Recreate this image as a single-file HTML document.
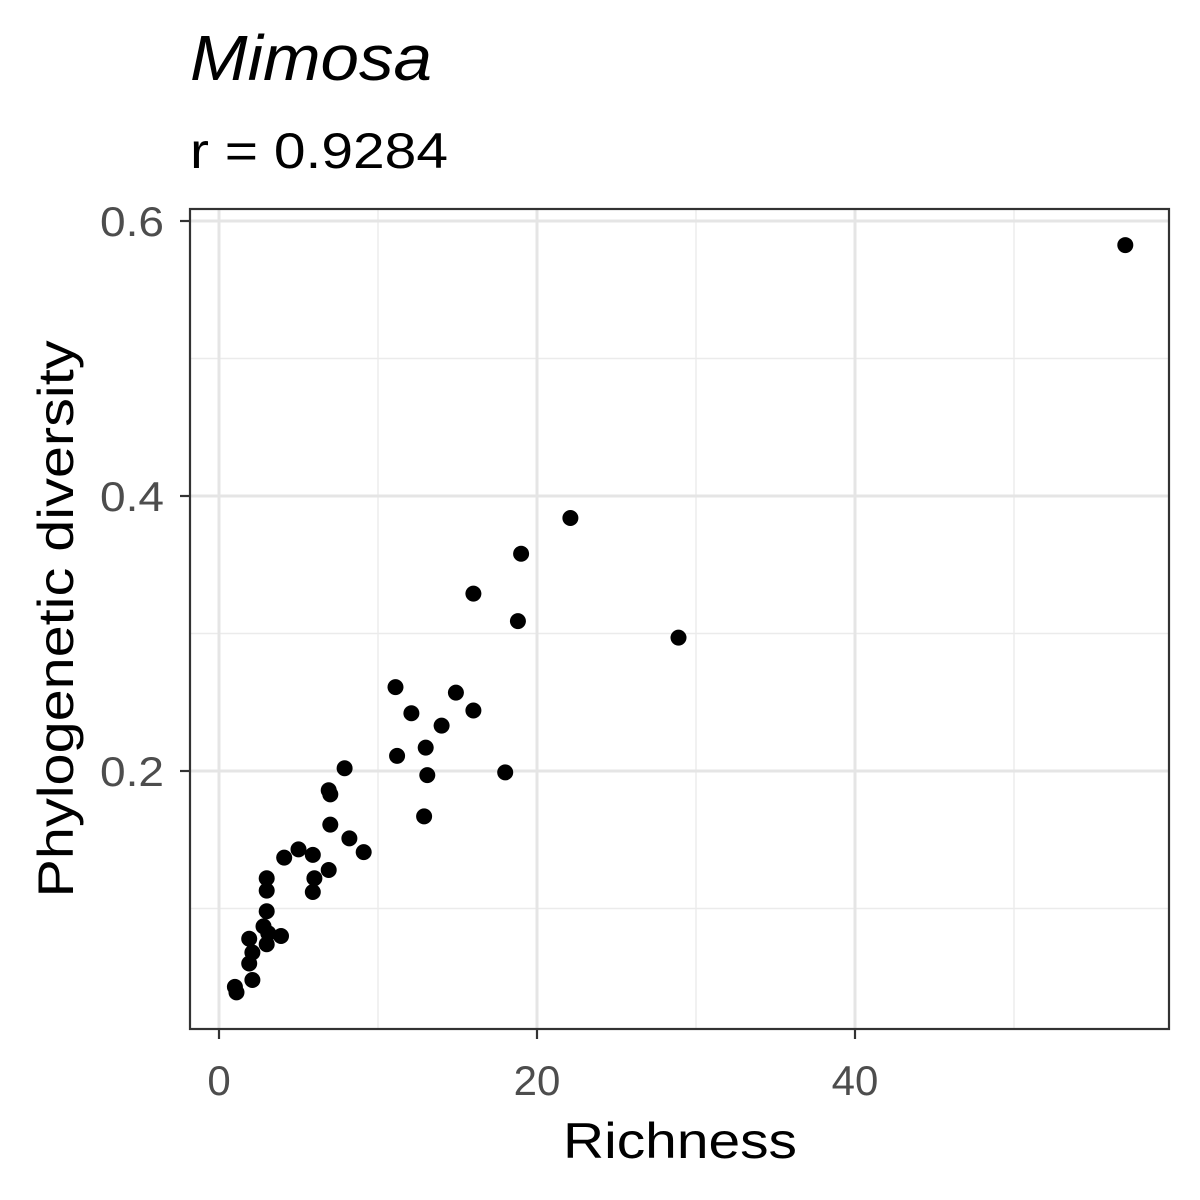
<!DOCTYPE html>
<html><head><meta charset="utf-8"><style>
html,body{margin:0;padding:0;background:#fff;}
svg{display:block;font-family:"Liberation Sans",Arial,sans-serif;}
</style></head><body>
<svg id="chart" width="1200" height="1200" viewBox="0 0 1200 1200">
<rect width="1200" height="1200" fill="#fff"/>
<text x="190" y="80" font-size="64" font-style="italic" textLength="242" lengthAdjust="spacingAndGlyphs">Mimosa</text>
<text x="190" y="168" font-size="50" textLength="258" lengthAdjust="spacingAndGlyphs">r = 0.9284</text>
<g id="grid"></g>
<g id="pts"></g>
<rect x="190" y="209" width="979" height="820" fill="none" stroke="#333" stroke-width="2.2"/>
<g id="axes"></g>
<text x="680" y="1158" font-size="50" text-anchor="middle" textLength="234" lengthAdjust="spacingAndGlyphs">Richness</text>
<text transform="translate(73,619) rotate(-90)" font-size="50" text-anchor="middle" textLength="557" lengthAdjust="spacingAndGlyphs">Phylogenetic diversity</text>
</svg>
<script>
const xTicks=[0,20,40];
const xMinor=[10,30,50];
const yTicks=[0.2,0.4,0.6];
const yMinor=[0.1,0.3,0.5];
const xTickLabels=["0","20","40"];
const yTickLabels=["0.2","0.4","0.6"];
const richness=[57.0,22.1,19.0,16.0,18.8,28.9,11.1,14.9,16.0,12.1,14.0,13.0,11.2,7.9,13.1,18.0,6.9,7.0,7.0,12.9,8.2,9.1,5.0,4.1,5.9,6.9,6.0,3.0,3.0,5.9,3.0,2.8,3.1,3.9,1.9,3.0,2.1,1.9,2.1,1.0,1.1];
const pd=[0.5825,0.384,0.358,0.329,0.309,0.297,0.261,0.257,0.244,0.242,0.233,0.217,0.211,0.202,0.197,0.199,0.186,0.183,0.161,0.167,0.151,0.141,0.143,0.137,0.139,0.128,0.122,0.122,0.113,0.112,0.098,0.087,0.082,0.080,0.078,0.074,0.068,0.060,0.048,0.043,0.039];
const NS="http://www.w3.org/2000/svg";
const L=190,R=1169,T=209,B=1029;
function xs(v){return 219+v*15.9;}
function ys(v){return 771-(v-0.2)*1375;}
function mk(tag,attrs,parent){const e=document.createElementNS(NS,tag);for(const k in attrs)e.setAttribute(k,attrs[k]);parent.appendChild(e);return e;}
const grid=document.getElementById('grid'),pts=document.getElementById('pts'),axes=document.getElementById('axes');
xMinor.forEach(v=>{const e=mk('line',{x1:xs(v),x2:xs(v),y1:T,y2:B,stroke:'#ebebeb','stroke-width':1.4},grid);

});
yMinor.forEach(v=>{const e=mk('line',{x1:L,x2:R,y1:ys(v),y2:ys(v),stroke:'#ebebeb','stroke-width':1.4},grid);

});
xTicks.forEach((v,i)=>{const e=mk('line',{x1:xs(v),x2:xs(v),y1:T,y2:B,stroke:'#e5e5e5','stroke-width':3},grid);


const t=mk('line',{x1:xs(v),x2:xs(v),y1:B,y2:B+10,stroke:'#333','stroke-width':2.2},axes);


const l=mk('text',{x:xs(v),y:1095,'font-size':42,fill:'#4d4d4d','text-anchor':'middle'},axes);l.textContent=xTickLabels[i];

});
yTicks.forEach((v,i)=>{const e=mk('line',{x1:L,x2:R,y1:ys(v),y2:ys(v),stroke:'#e5e5e5','stroke-width':3},grid);


const t=mk('line',{x1:L-10,x2:L,y1:ys(v),y2:ys(v),stroke:'#333','stroke-width':2.2},axes);


const l=mk('text',{x:164,y:ys(v)+15,'font-size':42,fill:'#4d4d4d','text-anchor':'end',textLength:64,lengthAdjust:'spacingAndGlyphs'},axes);l.textContent=yTickLabels[i];

});
richness.forEach((v,i)=>{const c=mk('circle',{cx:xs(v),cy:ys(pd[i]),r:8,fill:'#000'},pts);

});
</script>
</body></html>
